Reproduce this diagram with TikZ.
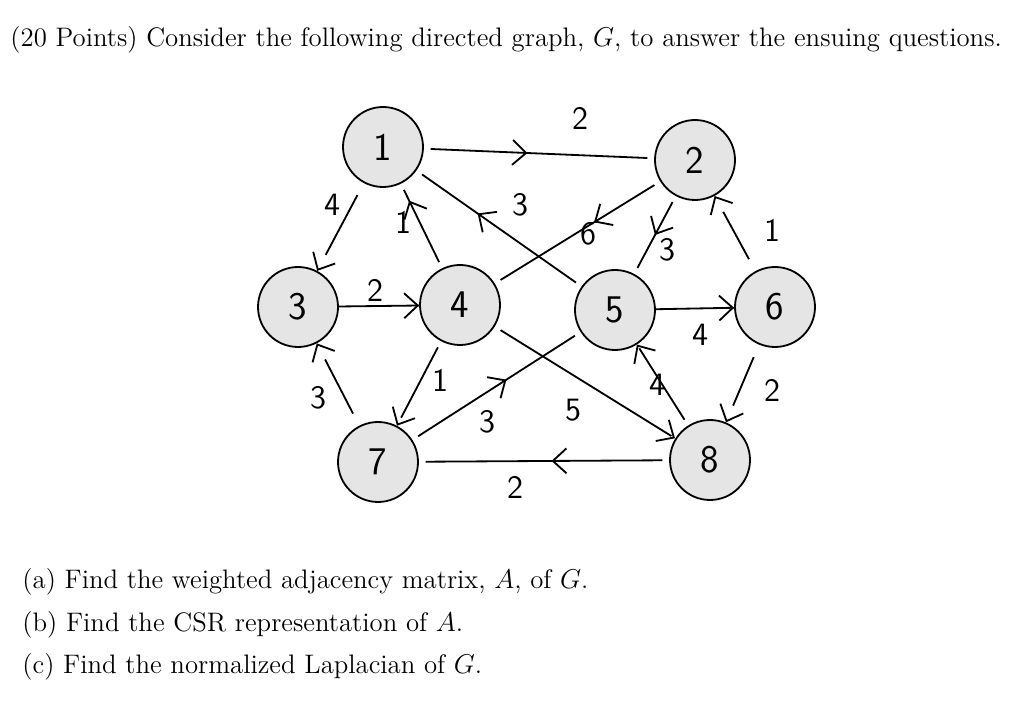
\documentclass[tikz,border=0pt]{standalone}
\usepackage{amsmath}
\usepackage{tikz}
\usetikzlibrary{arrows.meta,decorations.markings}

\tikzset{
  vertex/.style={circle, draw=black, thick, fill=gray!20, minimum size=1.24cm, inner sep=0pt, font=\sffamily\LARGE},
  edge/.style={draw=black, thick, shorten <=3pt, shorten >=3pt},
  tip/.style={postaction={decorate}, decoration={markings, mark=at position #1 with {\arrow{Straight Barb[length=6pt,width=11pt]}}}},
  wlabel/.style={font=\sffamily\Large, inner sep=1pt},
  question/.style={anchor=west, font=\fontsize{11.8}{14}\selectfont, inner sep=0pt}
}

\begin{document}
\begin{tikzpicture}[x=0.0155cm, y=-0.0155cm]
\useasboundingbox (0,0) rectangle (1024,708);
\node [question] (title) at (10,40) {(20 Points) Consider the following directed graph, $G$, to answer the ensuing questions.};
% vertices
\node [vertex] (1) at (383,147) {1};
\node [vertex] (2) at (695,160) {2};
\node [vertex] (3) at (298,307) {3};
\node [vertex] (4) at (460,305) {4};
\node [vertex] (5) at (615,310) {5};
\node [vertex] (6) at (775,307) {6};
\node [vertex] (7) at (378,462) {7};
\node [vertex] (8) at (710,460) {8};
% weighted edges
\draw [edge, tip=0.45] (1) -- (2);
\draw [edge, shorten <=6pt, shorten >=8pt, tip=1] (1) -- (3);
\draw [edge, tip=0.8] (4) -- (1);
\draw [edge, tip=0.63] (5) -- (1);
\draw [edge, tip=0.4] (2) -- (4);
\draw [edge, tip=0.5] (2) -- (5);
\draw [edge, shorten <=6pt, shorten >=8pt, tip=1] (6) -- (2);
\draw [edge, shorten <=0pt, shorten >=0pt, tip=1] (3) -- (4);
\draw [edge, shorten <=0pt, shorten >=0pt, tip=1] (5) -- (6);
\draw [edge, shorten <=6pt, shorten >=8pt, tip=1] (7) -- (3);
\draw [edge, shorten >=4pt, tip=1] (4) -- (7);
\draw [edge, tip=0.56] (7) -- (5);
\draw [edge, shorten >=2pt, tip=1] (4) -- (8);
\draw [edge, shorten >=2pt, tip=1] (8) -- (5);
\draw [edge, shorten <=6pt, shorten >=8pt, tip=1] (6) -- (8);
\draw [edge, tip=0.47] (8) -- (7);
% weights
\node [wlabel] (w12) at (580,118) {2};
\node [wlabel] (w13) at (332,205) {4};
\node [wlabel] (w41) at (403,222) {1};
\node [wlabel] (w51) at (520,205) {3};
\node [wlabel] (w24) at (588,234) {6};
\node [wlabel] (w25) at (667,250) {3};
\node [wlabel] (w62) at (772,230) {1};
\node [wlabel] (w34) at (375,290) {2};
\node [wlabel] (w56) at (700,335) {4};
\node [wlabel] (w73) at (318,398) {3};
\node [wlabel] (w47) at (440,380) {1};
\node [wlabel] (w75) at (487,422) {3};
\node [wlabel] (w48) at (573,410) {5};
\node [wlabel] (w85) at (657,385) {4};
\node [wlabel] (w68) at (772,390) {2};
\node [wlabel] (w87) at (515,487) {2};
% questions
\node [question] (qa) at (22,582) {(a) Find the weighted adjacency matrix, $A$, of $G$.};
\node [question] (qb) at (22,625) {(b) Find the CSR representation of $A$.};
\node [question] (qc) at (22,667) {(c) Find the normalized Laplacian of $G$.};
\end{tikzpicture}
\end{document}
